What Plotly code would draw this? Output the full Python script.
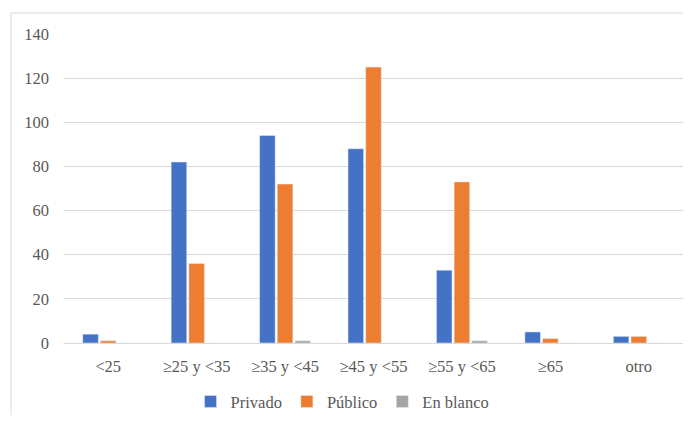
import plotly.graph_objects as go

categories = ["<25", "≥25 y <35", "≥35 y <45", "≥45 y <55", "≥55 y <65", "≥65", "otro"]
privado = [4, 82, 94, 88, 33, 5, 3]
publico = [1, 36, 72, 125, 73, 2, 3]
en_blanco = [0, 0, 1, 0, 1, 0, 0]
y_ticks = [0, 20, 40, 60, 80, 100, 120, 140]

font_family = "Times New Roman"
txt = "#595959"
fs = 16.5

fig = go.Figure()
fig.add_trace(go.Bar(name="Privado", x=categories, y=privado, marker_color="#4472C4"))
fig.add_trace(go.Bar(name="Público", x=categories, y=publico, marker_color="#ED7D31"))
fig.add_trace(go.Bar(name="En blanco", x=categories, y=en_blanco, marker_color="#A5A5A5"))

# page body has an 8px margin: figure drawn at offset (8, 8)
W, H = 675, 407
L, R, T, B = 56, 0, 26, 72
pw, ph = W - L - R, H - T - B
fx = (11 - 8 - L) / pw
fy = 1 + (T - 5) / ph

fig.update_layout(
    width=W, height=H,
    margin=dict(l=L, r=R, t=T, b=B, autoexpand=False),
    paper_bgcolor="white", plot_bgcolor="white",
    barmode="group", bargap=0.4, bargroupgap=0.12,
    font=dict(family=font_family, size=fs, color=txt),
    showlegend=True,
    legend=dict(orientation="h", x=0.45, xanchor="center", y=-0.19, yanchor="middle",
                font=dict(family=font_family, size=fs, color=txt),
                itemwidth=30, tracegroupgap=0, traceorder="normal"),
    xaxis=dict(showgrid=False, showline=True, linecolor="#d9d9d9", linewidth=1,
               ticks="", ticklabelstandoff=8,
               tickfont=dict(family=font_family, size=fs, color=txt)),
    yaxis=dict(range=[0, 140], tickvals=y_ticks, showgrid=True, gridcolor="#d9d9d9",
               gridwidth=1, zeroline=False, showline=False, ticks="",
               ticklabelstandoff=14, tickfont=dict(family=font_family, size=fs, color=txt)),
    shapes=[
        dict(type="line", xref="paper", yref="paper", x0=fx, x1=fx, y0=-0.5, y1=fy,
             line=dict(color="#d9d9d9", width=1)),
        dict(type="line", xref="paper", yref="paper", x0=fx, x1=1.05, y0=fy, y1=fy,
             line=dict(color="#d9d9d9", width=1)),
    ],
)

fig.write_html("out.html")
